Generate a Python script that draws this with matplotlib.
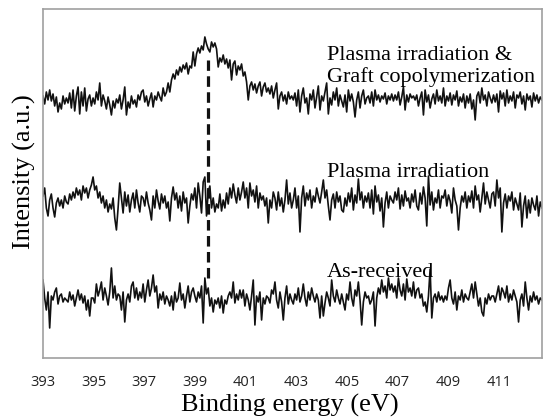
import numpy as np
import matplotlib
matplotlib.use('Agg')
import matplotlib.pyplot as plt

# binding energy grid (eV), 300 channels across the scan
energy = np.linspace(393.0, 412.7, 300)

# N1s spectra, arbitrary intensity units (offset traces)
# one row of 15 channels is roughly 1 eV
grafted = [
    262, 254, 266, 258, 268, 257, 264, 252, 261, 246, 255, 249, 262, 254, 260,
    255, 265, 250, 268, 247, 262, 271, 244, 266, 252, 270, 247, 259, 263, 252,
    260, 254, 266, 258, 275, 252, 263, 257, 249, 261, 253, 243, 257, 250, 259,
    255, 263, 249, 258, 271, 243, 256, 250, 262, 254, 258, 251, 263, 258, 266,
    268, 256, 262, 252, 259, 265, 251, 262, 258, 266, 261, 257, 270, 262, 266,
    275, 266, 278, 284, 279, 288, 283, 291, 286, 293, 289, 295, 284, 292, 290,
    306, 292, 304, 310, 305, 312, 308, 321, 314, 309, 306, 316, 311, 315, 309,
    291, 300, 296, 303, 294, 299, 290, 298, 278, 294, 297, 283, 292, 288, 294,
    282, 286, 276, 258, 272, 276, 268, 274, 265, 272, 276, 262, 271, 275, 266,
    270, 264, 272, 260, 268, 275, 249, 262, 266, 257, 263, 254, 266, 259, 262,
    258, 265, 252, 268, 246, 262, 270, 255, 260, 244, 264, 258, 268, 250, 261,
    272, 248, 262, 257, 266, 275, 244, 260, 253, 266, 258, 270, 252, 263, 257,
    251, 263, 246, 268, 257, 264, 256, 241, 258, 266, 250, 262, 268, 254, 260,
    262, 255, 266, 252, 268, 258, 263, 256, 262, 259, 265, 254, 262, 258, 264,
    257, 263, 258, 266, 253, 261, 271, 248, 263, 256, 264, 260, 262, 258, 263,
    252, 260, 266, 243, 268, 256, 263, 250, 259, 264, 254, 268, 257, 262, 255,
    270, 252, 262, 257, 265, 253, 263, 258, 267, 252, 261, 256, 264, 250, 262,
    255, 264, 249, 258, 238, 262, 266, 255, 270, 258, 263, 252, 266, 260, 255,
    263, 256, 264, 246, 267, 259, 265, 252, 268, 255, 262, 257, 266, 250, 263,
    260, 266, 254, 262, 248, 264, 258, 262, 251, 265, 257, 263, 255, 261, 258,
]

plasma = [
    162, 170, 150, 142, 158, 164, 150, 141, 155, 160, 152, 158, 150, 162, 156,
    154, 164, 158, 166, 160, 170, 163, 168, 158, 172, 165, 170, 160, 168, 173,
    181, 168, 172, 160, 166, 155, 162, 150, 158, 146, 154, 149, 160, 140, 128,
    150, 175, 160, 145, 166, 152, 163, 146, 158, 165, 150, 168, 155, 146, 162,
    160, 152, 166, 155, 148, 138, 162, 150, 168, 157, 149, 164, 155, 162, 150,
    156, 137, 160, 171, 158, 165, 150, 162, 147, 166, 155, 160, 135, 152, 164,
    158, 170, 150, 175, 162, 145, 176, 181, 142, 166, 172, 150, 160, 146, 154,
    150, 164, 147, 158, 150, 165, 154, 170, 160, 174, 163, 155, 170, 158, 166,
    176, 160, 170, 150, 175, 162, 168, 156, 172, 150, 165, 158, 162, 152, 160,
    135, 158, 150, 166, 160, 148, 166, 152, 160, 146, 158, 178, 154, 165, 150,
    158, 170, 150, 162, 126, 160, 172, 152, 165, 158, 168, 150, 162, 156, 170,
    162, 155, 166, 178, 160, 168, 152, 138, 158, 164, 150, 166, 156, 162, 148,
    146, 160, 152, 165, 156, 170, 148, 163, 155, 179, 158, 166, 150, 162, 156,
    165, 150, 168, 144, 172, 156, 163, 147, 160, 131, 155, 166, 150, 162, 158,
    155, 166, 158, 170, 149, 163, 152, 167, 157, 160, 150, 164, 156, 168, 152,
    148, 165, 154, 171, 160, 132, 182, 153, 166, 148, 160, 155, 168, 150, 162,
    160, 168, 152, 163, 157, 145, 170, 158, 152, 128, 150, 162, 156, 166, 150,
    162, 156, 167, 150, 172, 158, 163, 146, 160, 175, 154, 166, 158, 150, 164,
    166, 152, 178, 160, 170, 126, 155, 164, 150, 162, 157, 166, 148, 160, 154,
    148, 165, 131, 152, 162, 140, 158, 145, 160, 153, 148, 162, 142, 156, 150,
]

received = [
    78, 60, 48, 66, 30, 62, 58, 66, 70, 54, 62, 64, 56, 60, 58,
    56, 66, 58, 63, 52, 60, 68, 58, 64, 55, 62, 48, 58, 42, 60,
    60, 55, 74, 62, 68, 76, 58, 70, 62, 53, 66, 90, 60, 72, 58,
    64, 62, 48, 66, 36, 58, 64, 56, 72, 76, 60, 70, 58, 66, 60,
    74, 56, 68, 78, 62, 70, 83, 66, 72, 50, 64, 58, 66, 54, 62,
    58, 52, 62, 48, 66, 56, 60, 75, 58, 64, 50, 62, 72, 56, 66,
    70, 62, 56, 66, 60, 72, 35, 80, 64, 70, 52, 60, 46, 58, 54,
    60, 50, 62, 45, 58, 54, 62, 66, 60, 76, 55, 64, 58, 68, 60,
    68, 52, 64, 58, 48, 62, 78, 33, 62, 56, 66, 38, 60, 54, 62,
    60, 55, 68, 64, 76, 58, 50, 66, 56, 38, 60, 72, 54, 64, 58,
    54, 64, 58, 70, 56, 62, 74, 60, 52, 66, 58, 70, 62, 56, 64,
    58, 40, 62, 42, 55, 66, 60, 52, 78, 62, 56, 68, 60, 54, 64,
    56, 48, 64, 58, 76, 60, 52, 68, 62, 76, 58, 33, 56, 66, 60,
    62, 54, 58, 66, 32, 60, 70, 64, 78, 66, 72, 60, 80, 68, 74,
    66, 72, 60, 80, 68, 62, 74, 58, 79, 66, 70, 62, 76, 60, 68,
    70, 60, 64, 52, 56, 46, 62, 89, 40, 60, 64, 56, 66, 58, 62,
    56, 62, 58, 70, 78, 60, 54, 66, 48, 62, 58, 68, 56, 64, 60,
    58, 66, 74, 60, 76, 64, 52, 60, 46, 42, 60, 54, 64, 58, 62,
    62, 56, 64, 72, 58, 70, 66, 60, 72, 56, 64, 58, 68, 62, 56,
    36, 58, 64, 52, 76, 60, 48, 62, 56, 66, 58, 62, 54, 60, 58,
]

peak_energy = 399.5
peak_line = (80, 298)
xticks = [393, 395, 397, 399, 401, 403, 405, 407, 409, 411]

serif = 'Liberation Serif'

fig = plt.figure(figsize=(5.43, 4.19), dpi=100)
ax = fig.add_axes([0.0792, 0.1456, 0.9188, 0.833])

for trace in (grafted, plasma, received):
    ax.plot(energy, trace, color='#111111', lw=1.2)

ax.vlines(peak_energy, peak_line[0], peak_line[1], colors='#111111',
          linestyles=(0, (3.3, 1.7)), lw=2.3)

ax.text(404.2, 298, 'Plasma irradiation &', family=serif, fontsize=16)
ax.text(404.2, 276, 'Graft copolymerization', family=serif, fontsize=16)
ax.text(404.2, 181, 'Plasma irradiation', family=serif, fontsize=16)
ax.text(404.2, 81, 'As-received', family=serif, fontsize=16)

ax.set_xlim(393, 412.7)
ax.set_ylim(0, 349)
ax.set_xticks(xticks)
ax.set_xticklabels([str(t) for t in xticks], family='Open Sans', fontsize=10.5,
                   color='#222222')
ax.set_yticks([])
ax.tick_params(axis='x', length=0, pad=12)
for s in ax.spines.values():
    s.set_color('#a0a0a0')
    s.set_linewidth(1.2)

fig.text(290 / 543, 1 - 405 / 419, 'Binding energy (eV)', family=serif,
         fontsize=19, ha='center', va='center')
fig.text(24 / 543, 1 - 172 / 419, 'Intensity (a.u.)', family=serif,
         fontsize=19, ha='center', va='center', rotation=90)

fig.savefig('out.png', dpi=100)
